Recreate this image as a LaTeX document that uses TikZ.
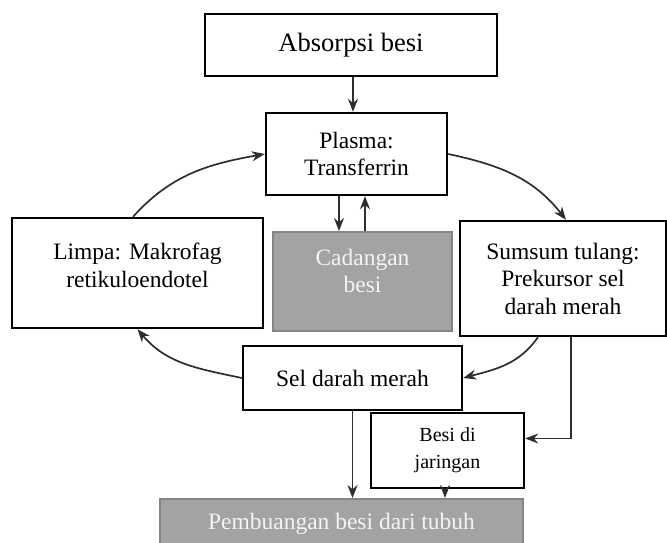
\documentclass[tikz,border=0pt]{standalone}
\usepackage{fontspec}
\setmainfont{Liberation Serif}
\usetikzlibrary{arrows.meta}
\definecolor{boxgray}{HTML}{A3A3A3}
\definecolor{boxgrayline}{HTML}{858585}
\definecolor{lightText}{HTML}{F4F4F4}
\definecolor{arrowcol}{HTML}{2E2E2E}
\tikzset{
  whitebox/.style={draw=black, line width=2.4pt, fill=white, inner sep=0pt, align=center,
    font=\fontsize{23.5}{27.5}\selectfont},
  graybox/.style={draw=boxgrayline, line width=2pt, fill=boxgray, inner sep=0pt, align=center,
    text=lightText, font=\fontsize{23.5}{27.5}\selectfont},
  arr/.style={draw=arrowcol, line width=1.7pt, -{Stealth[length=13pt,width=10pt]}},
}
\begin{document}
\begin{tikzpicture}[x=1pt,y=1pt]
\useasboundingbox (0,0) rectangle (667,-543);
% boxes
\node[whitebox, minimum width=292, minimum height=62, font=\fontsize{26.5}{30}\selectfont] (absorpsi) at (351,-45) {Absorpsi besi};
\node[whitebox, minimum width=181, minimum height=82] (plasma) at (356.5,-154) {Plasma:\\Transferrin};
\node[whitebox, minimum width=251, minimum height=110] (limpa) at (137.5,-273) {Limpa: Makrofag\\retikuloendotel\\[-11.5pt]};
\node[graybox, minimum width=179, minimum height=99] (cadangan) at (362.5,-281.5) {Cadangan\\besi\\[-6pt]};
\node[whitebox, minimum width=206, minimum height=115] (sumsum) at (563,-278.5) {Sumsum tulang:\\Prekursor sel\\darah merah};
\node[whitebox, minimum width=219, minimum height=64] (sel) at (352.5,-378) {Sel darah merah};
\node[whitebox, minimum width=153, minimum height=75, font=\fontsize{20}{27}\selectfont] (besi) at (447.5,-450.5) {Besi di\\jaringan};
\node[graybox, minimum width=363, minimum height=49] (pemb) at (341.5,-523.5) {Pembuangan besi dari tubuh};
% connectors
\draw[arr] ([xshift=2pt]absorpsi.south) -- ([xshift=2pt]absorpsi.south |- plasma.north);
\draw[arr] ([xshift=-17.5pt]plasma.south) -- ([xshift=-17.5pt]plasma.south |- cadangan.north);
\draw[arr] ([xshift=2.5pt]cadangan.north) -- ([xshift=2.5pt]cadangan.north |- plasma.south);
\draw[arr] ([xshift=-4.5pt]limpa.north) to[out=48, in=190] (plasma.west);
\draw[arr] (plasma.east) to[out=-12, in=128] ([xshift=3pt]sumsum.north);
\draw[arr] ([xshift=-25pt]sumsum.south) to[out=-125, in=15] (sel.east);
\draw[arr] (sel.west) to[out=168, in=-50] (limpa.south);
\draw[arr] ([xshift=8pt]sumsum.south) |- ([yshift=12pt]besi.east);
\draw[arr] (sel.south) -- (sel.south |- pemb.north);
\draw[arr] ([xshift=-2.5pt]besi.south) -- ([xshift=-2.5pt]besi.south |- pemb.north);
\end{tikzpicture}
\end{document}
